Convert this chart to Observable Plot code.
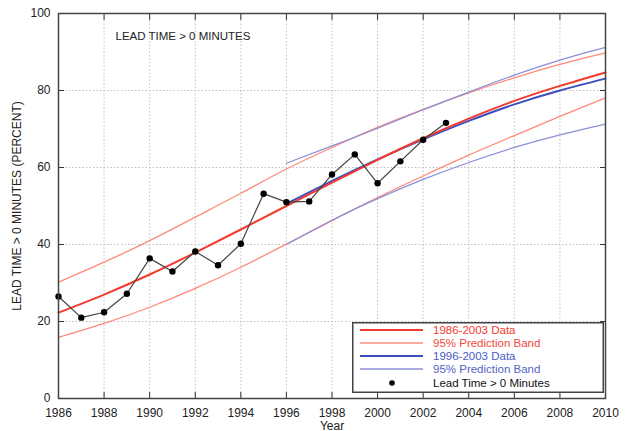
<!DOCTYPE html>
<html><head><meta charset="utf-8">
<script src="https://cdn.jsdelivr.net/npm/d3@7"></script>
<script src="https://cdn.jsdelivr.net/npm/@observablehq/plot@0.6"></script>
<style>
body{margin:0;background:#fff;font-family:"Liberation Sans",Arial,sans-serif}
#wrap{position:relative;width:627px;height:431px;overflow:hidden}
#legend{position:absolute;left:352px;top:322px}
</style></head><body><div id="wrap"></div>
<script>
// Observed data
const years = [1986,1987,1988,1989,1990,1991,1992,1993,1994,1995,1996,1997,1998,1999,2000,2001,2002,2003];
const leadTime = [26.5,21.0,22.4,27.2,36.4,33.0,38.2,34.6,40.2,53.2,51.0,51.2,58.2,63.4,55.9,61.6,67.2,71.6];

// 1986-2003 fit and 95% prediction band
const fitYearsA = [1986,1988,1990,1992,1994,1996,1998,2000,2002,2004,2006,2008,2010];
const fitA   = [22.3,27.0,32.2,37.9,43.9,50.0,56.1,62.0,67.6,72.7,77.3,81.2,84.7];
const upperA = [30.2,35.4,41.0,47.1,53.3,59.6,65.2,70.4,75.1,79.4,83.3,86.8,89.8];
const lowerA = [15.9,19.5,23.7,28.6,34.1,40.1,46.2,52.2,57.8,63.2,68.3,73.3,78.1];

// 1996-2003 fit and 95% prediction band
const fitYearsB = [1996,1998,2000,2002,2004,2006,2008,2010];
const fitB   = [50.6,56.5,62.1,67.3,72.1,76.4,80.0,83.1];
const upperB = [61.1,65.6,70.2,75.0,79.6,84.0,87.9,91.2];
const lowerB = [40.0,46.3,51.9,56.9,61.3,65.2,68.5,71.3];

const xTicks = [1986,1988,1990,1992,1994,1996,1998,2000,2002,2004,2006,2008,2010];
const yTicks = [0,20,40,60,80,100];

const legendItems = [
  {label:"1986-2003 Data", color:"#f23a2e", text:"#f23a2e", w:2, kind:"line"},
  {label:"95% Prediction Band", color:"#ff8a7a", text:"#f2493d", w:1.3, kind:"line"},
  {label:"1996-2003 Data", color:"#3c4fbf", text:"#4a5cc4", w:2, kind:"line"},
  {label:"95% Prediction Band", color:"#8a8fd8", text:"#5562c8", w:1.3, kind:"line"},
  {label:"Lead Time > 0 Minutes", color:"#000", text:"#111", w:0, kind:"dot"}
];

const obs = years.map((y,i)=>({year:y, v:leadTime[i]}));
const seriesA = k => fitYearsA.map((y,i)=>({year:y, v:k[i]}));
const seriesB = k => fitYearsB.map((y,i)=>({year:y, v:k[i]}));

const chart = Plot.plot({
  width:627, height:431,
  marginLeft:58, marginRight:22, marginTop:13, marginBottom:33,
  style:{fontFamily:'"Liberation Sans",Arial,sans-serif', fontSize:"12px", color:"#222", background:"#fff"},
  x:{domain:[1986,2010], ticks:xTicks},
  y:{domain:[0,100], ticks:yTicks},
  marks:[
    Plot.gridX(xTicks, {stroke:"#b0b0b0", strokeOpacity:0.8, strokeDasharray:"1.5,2"}),
    Plot.gridY(yTicks, {stroke:"#b0b0b0", strokeOpacity:0.8, strokeDasharray:"1.5,2"}),
    Plot.axisX(xTicks, {anchor:"bottom", tickSize:-6, tickPadding:16, tickFormat:d=>String(d), label:"Year", labelAnchor:"center", labelOffset:31, labelArrow:"none", stroke:"#333", fontSize:12}),
    Plot.axisX(xTicks, {anchor:"top", tickSize:-6, tickFormat:()=>"", label:null, stroke:"#333"}),
    Plot.axisY(yTicks, {anchor:"left", tickSize:-6, tickPadding:14, label:"LEAD TIME > 0 MINUTES (PERCENT)", labelAnchor:"center", labelOffset:46, labelArrow:"none", stroke:"#333", fontSize:12}),
    Plot.axisY(yTicks, {anchor:"right", tickSize:-6, tickFormat:()=>"", label:null, stroke:"#333"}),
    Plot.line(seriesA(upperA), {x:"year", y:"v", stroke:"#ff8a7a", strokeWidth:1.3, curve:"natural"}),
    Plot.line(seriesA(lowerA), {x:"year", y:"v", stroke:"#ff8a7a", strokeWidth:1.3, curve:"natural"}),
    Plot.line(seriesB(upperB), {x:"year", y:"v", stroke:"#8a8fd8", strokeWidth:1.3, curve:"natural"}),
    Plot.line(seriesB(lowerB), {x:"year", y:"v", stroke:"#8a8fd8", strokeWidth:1.3, curve:"natural"}),
    Plot.line(seriesB(fitB), {x:"year", y:"v", stroke:"#3c4fbf", strokeWidth:2, curve:"natural"}),
    Plot.line(seriesA(fitA), {x:"year", y:"v", stroke:"#f23a2e", strokeWidth:2, curve:"natural"}),
    Plot.line(obs, {x:"year", y:"v", stroke:"#444", strokeWidth:1.2}),
    Plot.dot(obs, {x:"year", y:"v", r:3.2, fill:"#000", stroke:"none"}),
    Plot.text(["LEAD TIME > 0 MINUTES"], {frameAnchor:"top-left", dx:57, dy:18, fontSize:11.5, fill:"#222", textAnchor:"start"}),
    Plot.frame({stroke:"#444", strokeWidth:1.5})
  ]
});
const wrap = document.getElementById("wrap");
wrap.appendChild(chart);

// Legend box inside the plot area
const lg = d3.select(wrap).append("svg").attr("id","legend").attr("width",252).attr("height",72);
lg.append("rect").attr("x",0.75).attr("y",0.75).attr("width",250.5).attr("height",69.5)
  .attr("fill","#fff").attr("stroke","#444").attr("stroke-width",1.5);
const rowY = [8,21,34,47,61];
legendItems.forEach((d,i)=>{
  const y = rowY[i];
  if(d.kind==="line"){
    lg.append("line").attr("x1",8).attr("x2",71).attr("y1",y).attr("y2",y).attr("stroke",d.color).attr("stroke-width",d.w);
  } else {
    lg.append("circle").attr("cx",40).attr("cy",y).attr("r",2.8).attr("fill",d.color);
  }
  lg.append("text").attr("x",81).attr("y",y).attr("dy","0.35em")
    .attr("font-family",'"Liberation Sans",Arial,sans-serif').attr("font-size",11.5)
    .attr("fill",d.text).text(d.label);
});
</script></body></html>
